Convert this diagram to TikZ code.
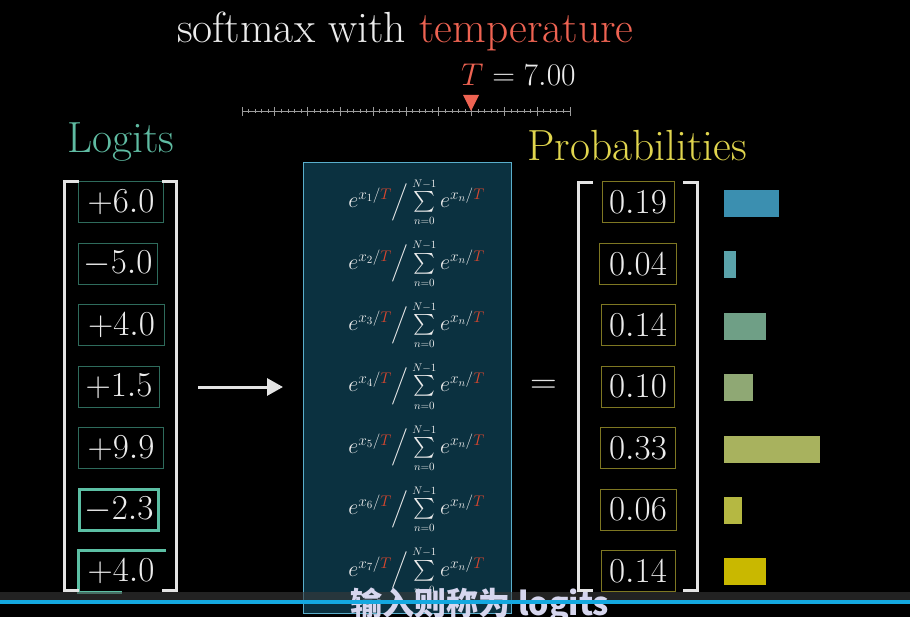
\RequirePackage{fix-cm}
\documentclass[tikz,border=0pt]{standalone}
\usepackage{exscale}
\usepackage{fontspec}
\newfontfamily\cjk{Noto Sans CJK SC}
\usetikzlibrary{arrows.meta}
\definecolor{titlewhite}{HTML}{ECECEC}
\definecolor{tempred}{HTML}{EE6352}
\definecolor{tred}{HTML}{D9472F}
\definecolor{logitc}{HTML}{5FBBA2}
\definecolor{probc}{HTML}{E0D54E}
\definecolor{lboxdim}{HTML}{2E6B5C}
\definecolor{lboxhi}{HTML}{5CBFA4}
\definecolor{pboxc}{HTML}{7E7722}
\definecolor{fboxfill}{HTML}{0B3140}
\definecolor{fboxline}{HTML}{5AAECB}
\definecolor{brkc}{HTML}{E4E4E4}
\definecolor{slidec}{HTML}{9C9C9C}
\definecolor{bara}{HTML}{3B8FB0}
\definecolor{barb}{HTML}{5AA2AA}
\definecolor{barc}{HTML}{6F9F86}
\definecolor{bard}{HTML}{8FA874}
\definecolor{bare}{HTML}{A8B25E}
\definecolor{barf}{HTML}{B5B842}
\definecolor{barg}{HTML}{C9B800}
\definecolor{bandc}{HTML}{3A3A3A}
\definecolor{ytblue}{HTML}{14A8E0}
\definecolor{subfill}{HTML}{D6D6EE}
\newcommand{\smx}[1]{e^{x_{#1}/\textcolor{tred}{T}}\Big/\sum\limits_{\scriptscriptstyle n=0}^{\scriptscriptstyle N-1}e^{x_n/\textcolor{tred}{T}}}
\begin{document}
\begin{tikzpicture}[x=1pt,y=-1pt,
  lbox/.style={draw=lboxdim, line width=1pt, minimum height=41pt, inner sep=0pt, text=titlewhite, font=\fontsize{35}{42}\selectfont},
  lboxhl/.style={lbox, draw=lboxhi, line width=3pt},
  pbox/.style={draw=pboxc, line width=1pt, minimum height=41pt, inner sep=0pt, text=titlewhite, font=\fontsize{35}{42}\selectfont},
  barbox/.style={minimum height=27pt, inner sep=0pt, anchor=west},
  brk/.style={draw=brkc, line width=3pt},
  formula/.style={inner sep=0pt, text=titlewhite, font=\fontsize{22}{24}\selectfont},
  arr/.style={draw=brkc, line width=3pt, -{Triangle[length=16pt,width=17pt]}},
  tick/.style={draw=slidec, line width=0.8pt}]
\fill[black] (0,0) rectangle (910,617);
\useasboundingbox (0,0) rectangle (910,617);
\clip (0,0) rectangle (910,617);

% title
\node[anchor=base west, inner sep=0pt, text=titlewhite, font=\fontsize{43.6}{50}\selectfont] (title) at (177,43) {softmax with \textcolor{tempred}{temperature}};
\node[anchor=base west, inner sep=0pt, text=titlewhite, font=\fontsize{31.5}{38}\selectfont] (tval) at (461,86) {$\textcolor{tempred}{T} = 7.00$};

% slider
\coordinate (sL) at (242,111);
\coordinate (sR) at (570,111);
\draw[tick] (sL) -- (sR);
\foreach \i in {0,...,50} {
  \pgfmathsetmacro{\xx}{242+\i*6.56}
  \pgfmathtruncatemacro{\mm}{mod(\i,5)}
  \ifnum\mm=0
    \draw[tick] (\xx,107) -- (\xx,116);
  \else
    \draw[tick] (\xx,109) -- (\xx,113.5);
  \fi
}
\fill[tempred] (463,95) -- (479,95) -- (471,111) -- cycle;

% headings
\node[anchor=base west, inner sep=0pt, text=logitc, font=\fontsize{43.6}{50}\selectfont] (logits) at (67,153) {Logits};
\node[anchor=base west, inner sep=0pt, text=probc, font=\fontsize{43.6}{50}\selectfont] (probs) at (527,161) {Probabilities};

% formula panel
\node[draw=fboxline, fill=fboxfill, line width=1pt, minimum width=208pt, minimum height=451pt, inner sep=0pt, anchor=north west] (fbox) at (303,162) {};

% logit boxes
\foreach \t/\w [count=\i] in {+6.0/85, -5.0/79, +4.0/86, +1.5/81, +9.9/85} {
  \node[lbox, minimum width=\w pt, anchor=west] (l\i) at (78,{202.5+61.4*(\i-1)}) {$\t$};
}
\node[lboxhl, minimum width=79pt, anchor=west] (l6) at (78,509.5) {$-2.3$};
\node[inner sep=0pt, text=titlewhite, font=\fontsize{35}{42}\selectfont] (l7) at (121,571) {$+4.0$};
\draw[draw=lboxhi, line width=3pt] (166,550) -- (78,550) -- (78,592) -- (122,592);

% brackets (logits)
\draw[brk] (79,182) -- (64.5,182) -- (64.5,590) -- (79,590);
\draw[brk] (162,182) -- (176,182) -- (176,590) -- (162,590);

% formulas
\foreach \i in {1,...,7} {
  \node[formula] (f\i) at (416.5,{202.5+61.4*(\i-1)}) {$\smx{\i}$};
}

% arrow and equals
\coordinate (aS) at (198,387);
\coordinate (aE) at (283,387);
\draw[arr] (aS) -- (aE);
\node[inner sep=0pt, text=brkc, font=\fontsize{37}{44}\selectfont] (eq) at (543.5,387) {$=$};

% probability boxes
\foreach \t/\w [count=\i] in {0.19/72, 0.04/77, 0.14/74, 0.10/73, 0.33/75, 0.06/76, 0.14/74} {
  \node[pbox, minimum width=\w pt] (p\i) at (638,{202.5+61.4*(\i-1)}) {$\t$};
}
\draw[brk] (593,183) -- (578,183) -- (578,590) -- (593,590);
\draw[brk] (683,183) -- (697,183) -- (697,590) -- (683,590);

% bars
\foreach \w/\c [count=\i] in {55/bara, 12/barb, 42/barc, 29/bard, 96/bare, 18/barf, 42/barg} {
  \node[barbox, fill=\c, minimum width=\w pt] (b\i) at (724,{203.5+61.4*(\i-1)}) {};
}

% player overlay band
\fill[bandc, opacity=0.6] (0,592) rectangle (910,600);

% subtitle
\node[anchor=base, inner sep=0pt, text=subfill, font=\cjk\bfseries\fontsize{32}{38}\selectfont] (sub) at (480,615) {输入则称为 logits};

\fill[ytblue] (0,600) rectangle (910,604);
\end{tikzpicture}
\end{document}
